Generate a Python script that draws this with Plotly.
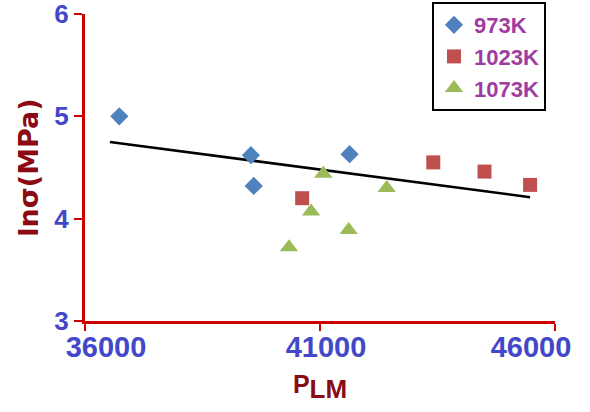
import plotly.graph_objects as go

# Data
x_973 = [36730, 39530, 39590, 41630]
y_973 = [5.00, 4.62, 4.32, 4.63]

x_1023 = [40620, 43410, 44500, 45470]
y_1023 = [4.20, 4.55, 4.46, 4.33]

x_1073 = [41070, 40810, 41610, 40340, 42420]
y_1073 = [4.44, 4.07, 3.89, 3.72, 4.30]

trend_x = [36530, 45470]
trend_y = [4.75, 4.21]

x_ticks = [36000, 41000, 46000]
x_tick_labels = ["36000", "41000", "46000"]
y_ticks = [3, 4, 5, 6]

FONT = "Liberation Sans, Arial, sans-serif"
AXIS_RED = "#CC0000"
TICK_BLUE = "#4348C9"
TITLE_RED = "#8B0A14"
LEGEND_PURPLE = "#A03CA0"

W, H = 590, 412
ML, MR, MT, MB = 85, 35, 14, 91
XR = [36000, 46000]
plot_w = W - ML - MR
plot_h = H - MT - MB

# in the reference the x labels are pulled inward; shift (px) per label
label_shift_px = [21, 6, -24]
x_label_pos = [v + s * (XR[1] - XR[0]) / plot_w for v, s in zip(x_ticks, label_shift_px)]

fig = go.Figure()

fig.add_trace(go.Scatter(
    x=trend_x, y=trend_y, mode="lines",
    line=dict(color="black", width=2.5), showlegend=False, hoverinfo="skip"))

fig.add_trace(go.Scatter(
    x=x_973, y=y_973, mode="markers", name="973K",
    marker=dict(symbol="diamond", size=14, color="#4F81BD")))
fig.add_trace(go.Scatter(
    x=x_1023, y=y_1023, mode="markers", name="1023K",
    marker=dict(symbol="square", size=14, color="#C0504D")))
fig.add_trace(go.Scatter(
    x=x_1073, y=y_1073, mode="markers", name="1073K",
    marker=dict(symbol="triangle-up", size=16, color="#9BBB59")))

# invisible trace on the label axis so it is drawn
fig.add_trace(go.Scatter(x=[XR[0]], y=[3], xaxis="x2", mode="markers",
                         marker=dict(opacity=0), showlegend=False, hoverinfo="skip"))

fig.update_layout(
    width=W, height=H,
    margin=dict(l=ML, r=MR, t=MT, b=MB, autoexpand=False),
    paper_bgcolor="white", plot_bgcolor="white",
    font=dict(family=FONT),
    legend=dict(
        x=(546 - ML) / plot_w, y=(H - MB - 2) / plot_h, xanchor="right", yanchor="top",
        bordercolor="black", borderwidth=2, bgcolor="white",
        font=dict(family=FONT, size=22, color=LEGEND_PURPLE, weight="bold"),
        tracegroupgap=0,
    ),
    xaxis=dict(
        range=XR, tickvals=x_ticks, showticklabels=False,
        showgrid=False, zeroline=False, automargin=False,
        showline=True, linecolor=AXIS_RED, linewidth=3,
        ticks="outside", ticklen=7, tickwidth=2, tickcolor=AXIS_RED,
        title=dict(text="P<sub><span style='font-size:26px'>LM</span></sub>", standoff=46,
                   font=dict(family=FONT, size=25, color=TITLE_RED, weight="bold")),
    ),
    xaxis2=dict(
        range=XR, overlaying="x", anchor="y", side="bottom",
        tickvals=x_label_pos, ticktext=x_tick_labels,
        showgrid=False, zeroline=False, automargin=False, showline=False,
        ticks="", ticklabelstandoff=6, ticklabeloverflow="allow",
        tickfont=dict(family=FONT, size=29, color=TICK_BLUE, weight="bold"),
    ),
    yaxis=dict(
        range=[3, 6], tickvals=y_ticks,
        showgrid=False, zeroline=False, automargin=False,
        showline=True, linecolor=AXIS_RED, linewidth=3,
        ticks="outside", ticklen=8, tickwidth=2, tickcolor=AXIS_RED,
        ticklabeloverflow="allow",
        tickfont=dict(family=FONT, size=26, color=TICK_BLUE, weight="bold"),
        title=dict(text="lnσ(MPa)", standoff=8,
                   font=dict(family="DejaVu Sans, sans-serif", size=27,
                             color=TITLE_RED, weight="bold")),
    ),
)

fig.write_html("out.html", config={"displayModeBar": False},
               post_script="document.body.style.margin='0';document.body.style.padding='0';")
